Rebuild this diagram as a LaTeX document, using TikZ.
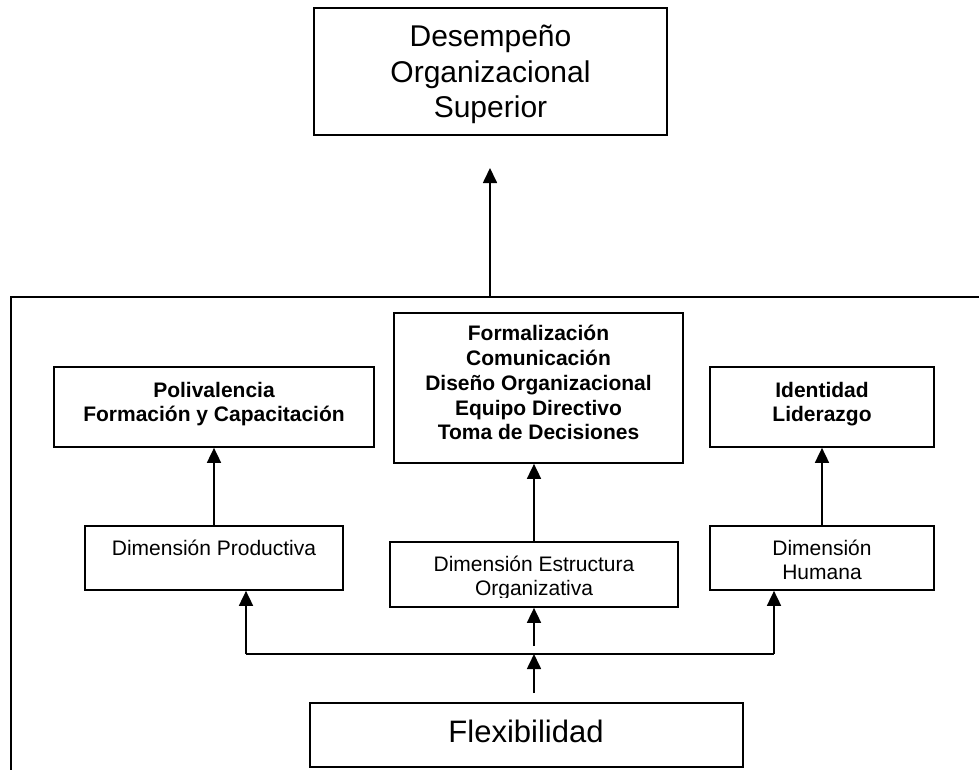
\documentclass[tikz,border=0pt]{standalone}
\usepackage{fontspec}
\setmainfont{Liberation Sans}
\usetikzlibrary{arrows.meta}
\begin{document}
\begin{tikzpicture}[x=1pt,y=-1pt,
  box/.style={draw, line width=1.7pt, inner sep=0pt},
  arr/.style={line width=1.7pt, -{Triangle[width=14pt,length=15pt]}},
  ln/.style={line width=1.7pt},
  bt/.style={font=\fontsize{21}{24.7}\selectfont\bfseries, align=center, inner sep=0pt},
  rt/.style={font=\fontsize{21}{24}\selectfont, align=center, inner sep=0pt},
]
\useasboundingbox (0,0) rectangle (979,769);
\fill[white] (0,0) rectangle (979,769);

% container (open to the right and bottom)
\coordinate (cBL) at (11,790);
\coordinate (cTL) at (11,297);
\coordinate (cTR) at (990,297);
\draw[ln] (cBL) -- (cTL) -- (cTR);

% boxes
\node[box, minimum width=353pt, minimum height=127pt] (top)  at (490.5,71.5) {};
\node[box, minimum width=320pt, minimum height=80pt]  (poli) at (214,407) {};
\node[box, minimum width=289pt, minimum height=150pt] (form) at (538.5,388) {};
\node[box, minimum width=224pt, minimum height=80pt]  (iden) at (822,407) {};
\node[box, minimum width=258pt, minimum height=64pt]  (prod) at (214,558) {};
\node[box, minimum width=288pt, minimum height=65pt]  (estr) at (534,574.5) {};
\node[box, minimum width=224pt, minimum height=64pt]  (hum)  at (822,558) {};
\node[box, minimum width=433pt, minimum height=64pt]  (flex) at (526.5,735) {};

% texts
\node[inner sep=0pt, align=center, font=\fontsize{30}{35.5}\selectfont] (topT) at (490.5,74.5)
  {Desempeño\\Organizacional\\Superior};
\node[bt] (poliT) at (214,404) {Polivalencia\\Formación y Capacitación};
\node[bt] (formT) at (538.5,382.7) {Formalización\\Comunicación\\Diseño Organizacional\\Equipo Directivo\\Toma de Decisiones};
\node[bt] (idenT) at (822,404) {Identidad\\Liderazgo};
\node[rt] (prodT) at (214,547.4) {Dimensión Productiva};
\begin{scope}
  \clip (390,542) rectangle (678,597.5);
  \node[rt] (estrT) at (534,577.5) {Dimensión Estructura\\Organizativa};
\end{scope}
\begin{scope}
  \clip (710,526) rectangle (934,581.5);
  \node[rt] (humT) at (822,559.4) {Dimensión\\Humana};
\end{scope}
\node[inner sep=0pt, font=\fontsize{31}{36}\selectfont] (flexT) at (526,731.7) {Flexibilidad};

% connectors
\coordinate (cUp) at (490,297);
\coordinate (tTip) at (490,168);
\draw[arr] (cUp) -- (tTip);

\draw[arr] (prod.north) -- (prod.north |- poli.south);
\draw[arr] (estr.north) -- (estr.north |- form.south);
\draw[arr] (hum.north) -- (hum.north |- iden.south);

\coordinate (jL) at (246,654);
\coordinate (jR) at (774,654);
\coordinate (jC) at (534,654);
\coordinate (fS) at (534,693);
\coordinate (eS) at (534,646);
\draw[ln] (jL) -- (jR);
\draw[arr] (jL) -- (jL |- prod.south);
\draw[arr] (jR) -- (jR |- hum.south);
\draw[arr] (eS) -- (estr.south);
\draw[arr] (fS) -- (jC);
\end{tikzpicture}
\end{document}
